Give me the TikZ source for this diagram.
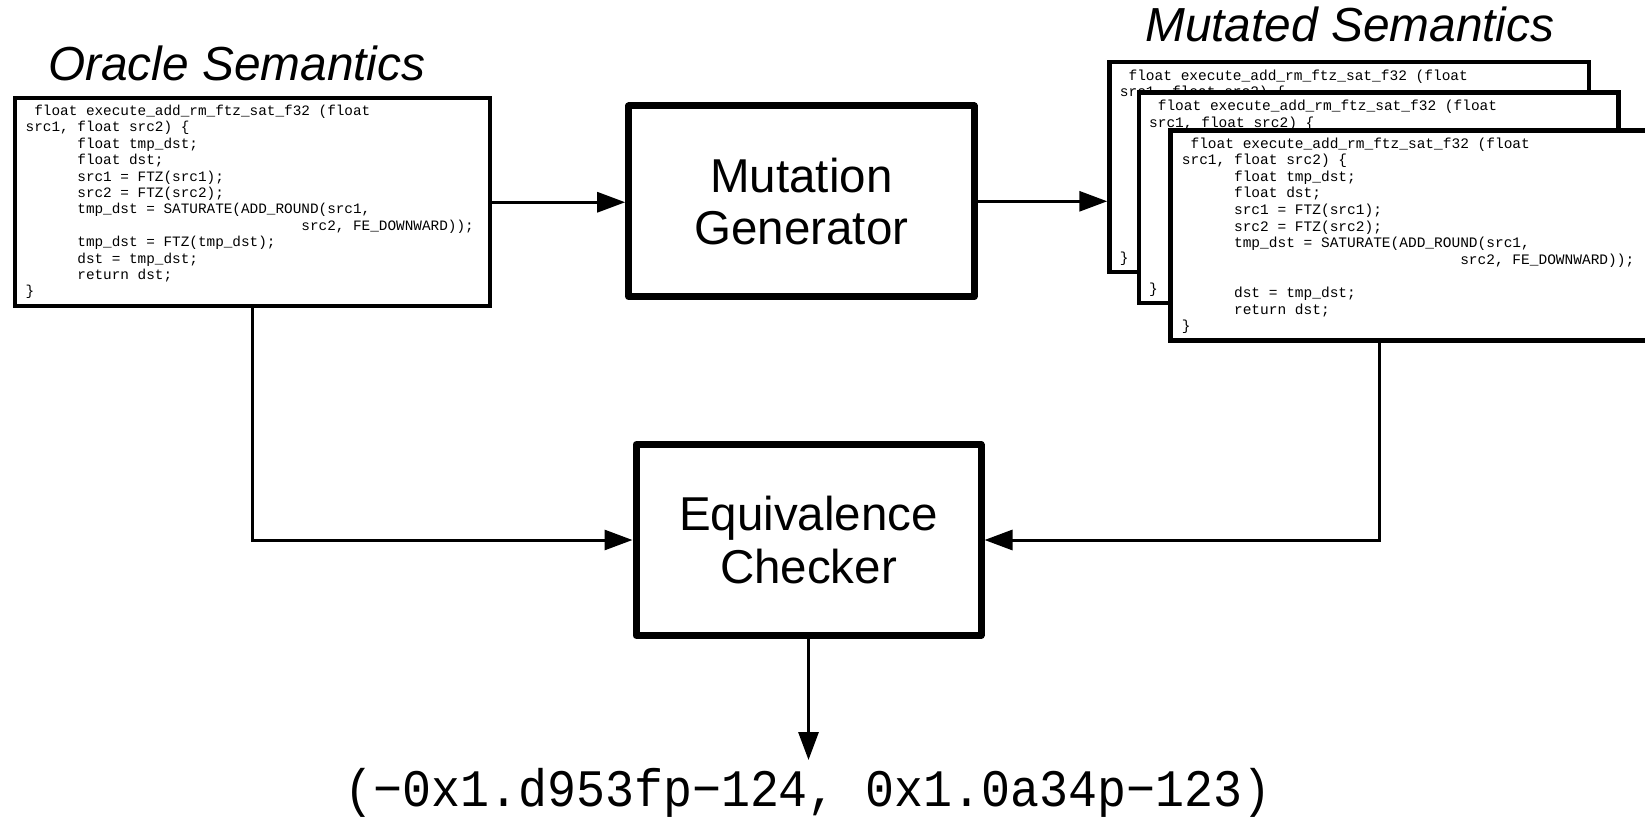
\documentclass[tikz,border=0pt]{standalone}
\usepackage{fontspec}
\setmainfont{Liberation Sans}
\newfontfamily\codefont{Liberation Mono}
\newfontfamily\resultfont[FakeStretch=0.916]{Liberation Mono}
\usetikzlibrary{arrows.meta,calc}

% indentation by a number of monospace character cells
\newcommand\ind[1]{\hspace*{\dimexpr 0.6em*#1\relax}}
\newcommand\srcline[2]{\ind{#1}#2\par}

% reference implementation
\newcommand\oraclecode{%
  \parbox[t]{600pt}{\codefont\fontsize{14.36}{16.4}\selectfont\parindent0pt\frenchspacing
    \srcline{1}{float execute\_add\_rm\_ftz\_sat\_f32 (float}
    \srcline{0}{src1, float src2) \{}
    \srcline{6}{float tmp\_dst;}
    \srcline{6}{float dst;}
    \srcline{6}{src1 = FTZ(src1);}
    \srcline{6}{src2 = FTZ(src2);}
    \srcline{6}{tmp\_dst = SATURATE(ADD\_ROUND(src1,}
    \srcline{32}{src2, FE\_DOWNWARD));}
    \srcline{6}{tmp\_dst = FTZ(tmp\_dst);}
    \srcline{6}{dst = tmp\_dst;}
    \srcline{6}{return dst;}
    \srcline{0}{\}}}}

% mutant with the final flush-to-zero removed
\newcommand\mutantcode{%
  \parbox[t]{600pt}{\codefont\fontsize{14.5}{16.6}\selectfont\parindent0pt\frenchspacing
    \srcline{1}{float execute\_add\_rm\_ftz\_sat\_f32 (float}
    \srcline{0}{src1, float src2) \{}
    \srcline{6}{float tmp\_dst;}
    \srcline{6}{float dst;}
    \srcline{6}{src1 = FTZ(src1);}
    \srcline{6}{src2 = FTZ(src2);}
    \srcline{6}{tmp\_dst = SATURATE(ADD\_ROUND(src1,}
    \srcline{32}{src2, FE\_DOWNWARD));}
    \srcline{0}{\mbox{}}
    \srcline{6}{dst = tmp\_dst;}
    \srcline{6}{return dst;}
    \srcline{0}{\}}}}

\begin{document}
\begin{tikzpicture}[x=1pt,y=-1pt,
  codebox/.style={draw, fill=white, line width=4pt, inner sep=0pt},
  bigbox/.style={draw, line width=7pt, line join=round, inner sep=0pt, align=center,
    font=\fontsize{47.5}{52.5}\selectfont},
  title/.style={anchor=base west, inner sep=0pt, font=\itshape\fontsize{47.8}{57}\selectfont},
  codetext/.style={anchor=base west, inner sep=0pt},
  arr/.style={line width=3pt, -{Triangle[length=28pt,width=20pt]}}
]
\clip (0,0) rectangle (1645,821);

% titles
\node[title] (oracletitle) at (48,81) {Oracle Semantics};
\node[title] (mutatedtitle) at (1145,41.7) {Mutated Semantics};

% oracle code
\node[codebox, minimum width=475pt, minimum height=207.5pt] (oracle) at (252,202.25) {};
\node[codetext] (oracletxt) at ($(oracle.north west)+(13,19)$) {\oraclecode};

% stack of mutants
\node[codebox, line width=4.5pt, minimum width=479.5pt, minimum height=210pt] (mut1) at (1349.25,167) {};
\node[codetext] (mut1txt) at ($(mut1.north west)+(12.4,20.4)$) {\mutantcode};
\node[codebox, line width=4.5pt, minimum width=479.5pt, minimum height=210pt] (mut2) at (1378.5,197.75) {};
\node[codetext] (mut2txt) at ($(mut2.north west)+(12.4,20.2)$) {\mutantcode};
\node[codebox, line width=4.5pt, minimum width=520pt, minimum height=210pt] (mut3) at (1430.5,235.5) {};
\node[codetext] (mut3txt) at ($(mut3.north west)+(13.4,19.8)$) {\mutantcode};

% processing blocks
\node[bigbox, minimum width=345.3pt, minimum height=190.6pt] (mutgen) at (801.35,201.3) {Mutation\\Generator};
\node[bigbox, minimum width=345pt, minimum height=190.6pt] (equiv) at (808.5,540) {Equivalence\\Checker};

% counterexample
\node[anchor=base, inner sep=0pt, font=\resultfont\fontsize{52.7}{60}\selectfont] (result) at (808,806.7)
  {(−0x1.d953fp−124, 0x1.0a34p−123)};
\coordinate (tipend) at (808.5,760);
\coordinate (mut3foot) at ([xshift=210.75pt]mut3.south west);

% connectors
\draw[arr] (oracle.east) -- (oracle.east -| mutgen.west);
\draw[arr] (mutgen.east) -- (mutgen.east -| mut1.west);
\draw[arr] (oracle.south) |- (equiv.west);
\draw[arr] (mut3foot) |- (equiv.east);
\draw[arr] (equiv.south) -- (equiv.south |- tipend);
\end{tikzpicture}
\end{document}
